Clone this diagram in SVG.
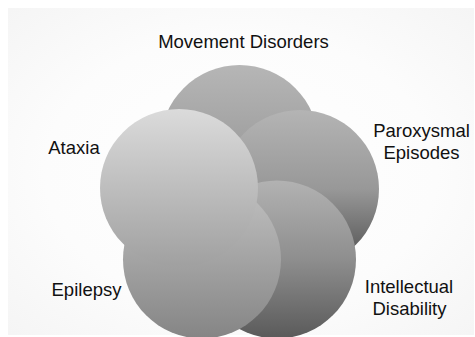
<svg xmlns="http://www.w3.org/2000/svg" width="475" height="337" viewBox="0 0 475 337">
  <defs>
    <radialGradient id="bg" cx="0.5" cy="0.5" r="0.7">
      <stop offset="0" stop-color="#ffffff"/>
      <stop offset="0.6" stop-color="#fcfcfc"/>
      <stop offset="1" stop-color="#f5f5f5"/>
    </radialGradient>
    <linearGradient id="gMove" x1="0" y1="0" x2="0" y2="1">
      <stop offset="0" stop-color="#b6b6b6"/>
      <stop offset="1" stop-color="#8a8a8a"/>
    </linearGradient>
    <linearGradient id="gPar" x1="0" y1="0" x2="0" y2="1">
      <stop offset="0" stop-color="#b4b4b4"/>
      <stop offset="0.5" stop-color="#989898"/>
      <stop offset="1" stop-color="#4c4c4c"/>
    </linearGradient>
    <linearGradient id="gInt" x1="0" y1="0" x2="0" y2="1">
      <stop offset="0" stop-color="#b2b2b2"/>
      <stop offset="0.5" stop-color="#8e8e8e"/>
      <stop offset="1" stop-color="#5a5a5a"/>
    </linearGradient>
    <linearGradient id="gEpi" x1="0" y1="0" x2="0" y2="1">
      <stop offset="0" stop-color="#c2c2c2"/>
      <stop offset="1" stop-color="#858585"/>
    </linearGradient>
    <linearGradient id="gAta" x1="0" y1="0" x2="0" y2="1">
      <stop offset="0" stop-color="#dbdbdb"/>
      <stop offset="1" stop-color="#a0a0a0"/>
    </linearGradient>
  </defs>
  <style>
    .lbl { font-family: "Liberation Sans", Arial, sans-serif; font-size: 18.5px; fill: #111111; text-anchor: middle; }
  </style>
  <rect x="0" y="0" width="475" height="337" fill="#ffffff"/>
  <rect x="8" y="8" width="466" height="327" fill="url(#bg)"/>
  <g id="connectors"/>
  <g id="node-movement">
    <circle cx="239.5" cy="144" r="79" fill="url(#gMove)"/>
    <text class="lbl" x="243.5" y="48">Movement Disorders</text>
  </g>
  <g id="node-paroxysmal">
    <circle cx="300" cy="189" r="79" fill="url(#gPar)"/>
    <text class="lbl" x="421.5" y="137">Paroxysmal</text>
    <text class="lbl" x="421.5" y="159">Episodes</text>
  </g>
  <g id="node-intellectual">
    <circle cx="277" cy="259.5" r="79" fill="url(#gInt)"/>
    <text class="lbl" x="409" y="293">Intellectual</text>
    <text class="lbl" x="409.5" y="315">Disability</text>
  </g>
  <g id="node-epilepsy">
    <circle cx="202" cy="259.5" r="79" fill="url(#gEpi)"/>
    <text class="lbl" x="86.5" y="296">Epilepsy</text>
  </g>
  <g id="node-ataxia">
    <circle cx="179" cy="188" r="79" fill="url(#gAta)"/>
    <text class="lbl" x="74" y="154">Ataxia</text>
  </g>
</svg>
